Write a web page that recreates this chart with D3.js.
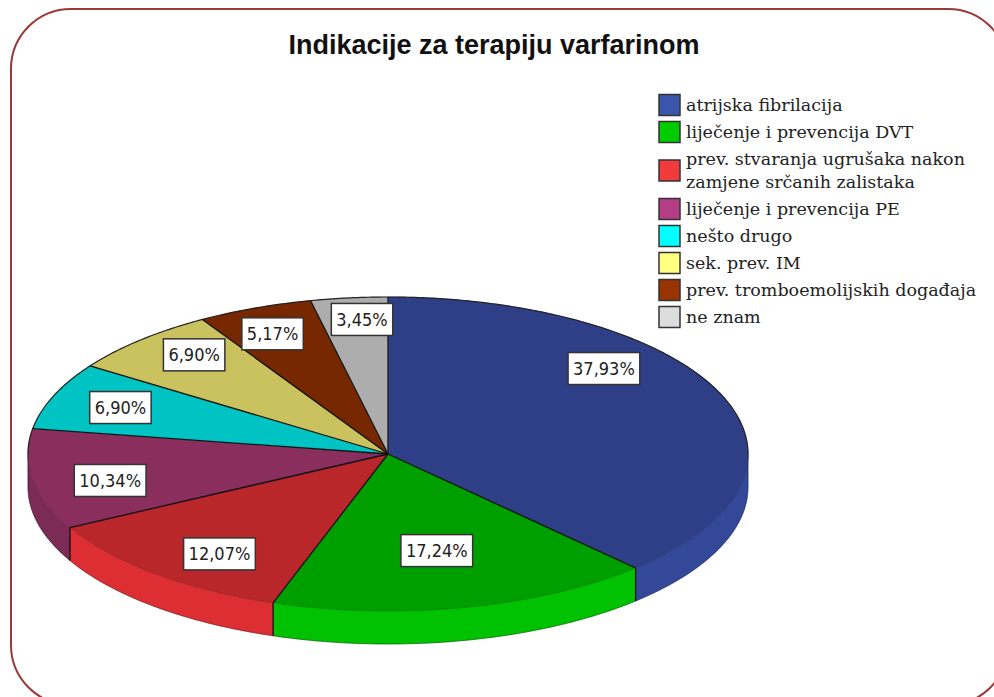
<!DOCTYPE html>
<html>
<head>
<meta charset="utf-8">
<script src="https://cdn.jsdelivr.net/npm/d3@7"></script>
<style>
  html, body { margin: 0; padding: 0; background: #ffffff; }
  svg { display: block; }
</style>
</head>
<body>
<svg id="chart" width="994" height="697"></svg>
<script>
// ---- data ----
const title = "Indikacije za terapiju varfarinom";
const categories = [
  "atrijska fibrilacija",
  "liječenje i prevencija DVT",
  "prev. stvaranja ugrušaka nakon zamjene srčanih zalistaka",
  "liječenje i prevencija PE",
  "nešto drugo",
  "sek. prev. IM",
  "prev. tromboemolijskih događaja",
  "ne znam"
];
const percents = [37.93, 17.24, 12.07, 10.34, 6.90, 6.90, 5.17, 3.45];
const topColors = ["#2E3F87", "#009F00", "#B9272B", "#8A2E5E", "#00C4C4", "#C9C25F", "#782800", "#ADADAD"];
const sideColors = ["#34489A", "#00C200", "#DD2F33", "#7C2A56", "#00A8A8", "#ABA550", "#642100", "#939393"];
const legendColors = ["#3A56AC", "#00CC00", "#F23A3C", "#B53D86", "#00FFFF", "#FFFF80", "#993300", "#DDDDDD"];

// ---- layout ----
const svg = d3.select("#chart");
const cx = 388, cy = 454, rx = 360, ry = 157, depth = 33;

// frame
svg.append("rect")
  .attr("x", 11).attr("y", 9).attr("width", 997).attr("height", 696)
  .attr("rx", 60).attr("ry", 60)
  .attr("fill", "#fff").attr("stroke", "#9B3838").attr("stroke-width", 2);

// title
svg.append("text")
  .attr("x", 494).attr("y", 54)
  .attr("text-anchor", "middle")
  .attr("font-family", "'Liberation Sans', Arial, sans-serif")
  .attr("font-weight", "bold")
  .attr("font-size", 27)
  .attr("fill", "#111")
  .text(title);

const pie = d3.pie().sort(null).value(d => d)
  .startAngle(0).endAngle(2 * Math.PI);
const arcs = pie(percents);

const P = (a, r = 1, dy = 0) => [cx + rx * r * Math.sin(a), cy - ry * r * Math.cos(a) + dy];
function arcPts(a0, a1, r = 1, dy = 0) {
  const n = Math.max(2, Math.ceil((a1 - a0) / 0.01));
  const pts = [];
  for (let i = 0; i <= n; i++) pts.push(P(a0 + (a1 - a0) * i / n, r, dy));
  return pts;
}
const line = d3.line();

const g = svg.append("g");

// side faces (front half only)
const frontA = Math.PI / 2, frontB = 3 * Math.PI / 2;
arcs.forEach((d, i) => {
  const s = Math.max(d.startAngle, frontA), e = Math.min(d.endAngle, frontB);
  if (s >= e) return;
  const topPts = arcPts(s, e, 1, 0);
  const botPts = arcPts(s, e, 1, depth).reverse();
  g.append("path")
    .attr("d", line(topPts.concat(botPts)) + "Z")
    .attr("fill", sideColors[i])
    .attr("stroke", sideColors[i]).attr("stroke-width", 0.5);
});
// bottom silhouette
g.append("path")
  .attr("d", line(arcPts(frontA, frontB, 1, depth)))
  .attr("fill", "none").attr("stroke", "rgba(0,0,0,0.35)").attr("stroke-width", 1);
// vertical edges at slice boundaries on side
arcs.forEach(d => {
  const a = d.startAngle;
  if (a > frontA && a < frontB) {
    const p = P(a);
    g.append("line")
      .attr("x1", p[0]).attr("y1", p[1]).attr("x2", p[0]).attr("y2", p[1] + depth)
      .attr("stroke", "#111").attr("stroke-width", 1.3);
  }
});

// top faces
arcs.forEach((d, i) => {
  const pts = [[cx, cy]].concat(arcPts(d.startAngle, d.endAngle));
  g.append("path")
    .attr("d", line(pts) + "Z")
    .attr("fill", topColors[i])
    .attr("stroke", topColors[i]).attr("stroke-width", 0.5);
});
// top-front edge (subtle)
g.append("path")
  .attr("d", line(arcPts(frontA, frontB)))
  .attr("fill", "none").attr("stroke", "rgba(0,0,0,0.18)").attr("stroke-width", 1);
// back outline
g.append("path")
  .attr("d", line(arcPts(-Math.PI / 2, Math.PI / 2)))
  .attr("fill", "none").attr("stroke", "#222").attr("stroke-width", 1.2);
// side silhouettes
[frontA, frontB].forEach(a => {
  const p = P(a);
  g.append("line")
    .attr("x1", p[0]).attr("y1", p[1]).attr("x2", p[0]).attr("y2", p[1] + depth)
    .attr("stroke", "rgba(0,0,0,0.4)").attr("stroke-width", 1);
});
// radial separators
arcs.forEach(d => {
  const p = P(d.startAngle);
  g.append("line")
    .attr("x1", cx).attr("y1", cy).attr("x2", p[0]).attr("y2", p[1])
    .attr("stroke", "#111").attr("stroke-width", 1.3);
});

// value labels
const fmt = v => d3.format(".2f")(v).replace(".", ",") + "%";
const labelR = [0.81, 0.63, 0.79, 0.79, 0.80, 0.83, 0.83, 0.86];
const labelShift = [-20.5, 0, -4, -3, 0, 3, -1, 1.4];
arcs.forEach((d, i) => {
  const mid = (d.startAngle + d.endAngle) / 2 + labelShift[i] * Math.PI / 180;
  const p = P(mid, labelR[i]);
  const lg = svg.append("g").attr("transform", `translate(${p[0]},${p[1]})`);
  const rect = lg.append("rect");
  const t = lg.append("text")
    .attr("text-anchor", "middle")
    .attr("dominant-baseline", "central")
    .attr("font-family", "'DejaVu Sans', sans-serif")
    .attr("font-stretch", "condensed")
    .attr("font-size", 18)
    .attr("fill", "#222")
    .text(fmt(d.data));
  const bb = t.node().getBBox();
  const w = bb.width + 10, h = 32;
  rect.attr("x", -w / 2).attr("y", -h / 2).attr("width", w).attr("height", h)
    .attr("fill", "#fff").attr("stroke", "#333").attr("stroke-width", 1.5);
});

// legend
const lx = 659, tx = 686, maxW = 305;
let yc = 105;
const lgd = svg.append("g");
categories.forEach((c, i) => {
  const words = c.split(" ");
  const lines = [];
  let cur = "";
  const meas = lgd.append("text")
    .attr("font-family", "'DejaVu Serif', serif").attr("font-size", 17.5);
  words.forEach(w => {
    const test = cur ? cur + " " + w : w;
    meas.text(test);
    if (meas.node().getComputedTextLength() > maxW && cur) {
      lines.push(cur); cur = w;
    } else cur = test;
  });
  lines.push(cur);
  meas.remove();
  const lineH = 23;
  const firstY = yc;
  const center = firstY + (lines.length - 1) * lineH / 2;
  lgd.append("rect")
    .attr("x", lx).attr("y", center - 10.5).attr("width", 21).attr("height", 21)
    .attr("fill", legendColors[i]).attr("stroke", "#333").attr("stroke-width", 1.5);
  lines.forEach((ln, k) => {
    lgd.append("text")
      .attr("x", tx).attr("y", firstY + k * lineH)
      .attr("dominant-baseline", "central")
      .attr("font-family", "'DejaVu Serif', serif")
      .attr("font-size", 17.5)
      .attr("fill", "#222")
      .text(ln);
  });
  yc = firstY + (lines.length - 1) * lineH + 27;
});
</script>
</body>
</html>
